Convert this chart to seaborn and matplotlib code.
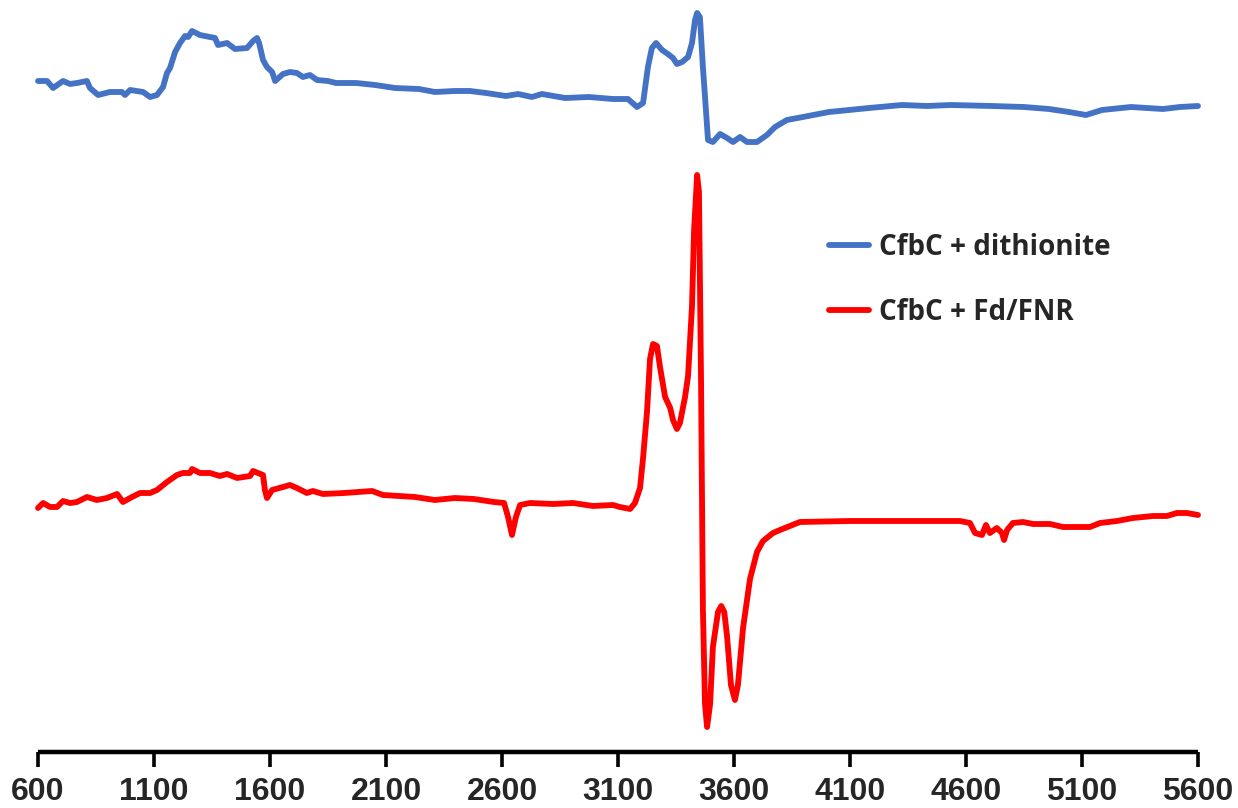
import matplotlib
matplotlib.use("Agg")
import matplotlib.pyplot as plt
import numpy as np
import pandas as pd
import seaborn as sns

# Magnetic field (G) and EPR signal (arbitrary units, offset per trace)
field_dithionite = [
    600, 639, 665, 708, 738, 768, 811, 824, 859, 910, 962, 975, 997, 1053, 1083,
    1113, 1139, 1156, 1169, 1191, 1212, 1234, 1247, 1264, 1298, 1341, 1363, 1376,
    1415, 1449, 1501, 1527, 1544, 1553, 1570, 1587, 1609, 1622, 1656, 1686, 1716,
    1742, 1772, 1803, 1850, 1884, 1971, 2053, 2139, 2242, 2311, 2397, 2462, 2531,
    2617, 2669, 2729, 2772, 2872, 2975, 3078, 3108, 3143, 3182, 3208, 3229, 3246,
    3264, 3290, 3315, 3337, 3354, 3376, 3402, 3419, 3432, 3441, 3453, 3466, 3479,
    3488, 3509, 3540, 3570, 3596, 3626, 3656, 3699, 3742, 3777, 3828, 3897, 4009,
    4182, 4324, 4432, 4535, 4712, 4850, 4958, 5044, 5117, 5186, 5311, 5449, 5522,
    5600,
]
signal_dithionite = [
    671, 671, 664, 671, 668, 669, 671, 664, 657, 660, 660, 657, 662, 660, 655,
    657, 665, 679, 684, 700, 709, 716, 715, 721, 717, 715, 714, 707,
    709, 703, 704, 711, 714, 709, 692, 685, 680, 671, 678, 680, 679,
    675, 677, 672, 671, 669, 669, 667, 664, 663, 660, 661, 661, 659,
    656, 658, 655, 658, 654, 655, 653, 653, 653, 645, 649, 685, 704,
    709, 702, 698, 694, 688, 690, 695, 709, 732, 739, 735, 685, 642,
    612, 610, 618, 614, 610, 615, 610, 610, 617, 625, 632, 635, 640,
    644, 647, 646, 647, 646, 645, 643, 640, 637, 642, 645, 643, 645,
    646,
]

field_fd_fnr = [
    600, 622, 652, 682, 708, 738, 768, 811, 854, 897, 941, 966, 1005, 1040, 1083,
    1113, 1156, 1199, 1225, 1255, 1264, 1298, 1341, 1384, 1415, 1458, 1514, 1527,
    1548, 1570, 1578, 1587, 1609, 1656, 1686, 1716, 1759, 1785, 1828, 1919, 2040,
    2087, 2225, 2311, 2397, 2479, 2565, 2609, 2626, 2643, 2660, 2678, 2721, 2820,
    2906, 2992, 3078, 3108, 3152, 3173, 3195, 3208, 3225, 3238, 3251, 3268, 3281,
    3303, 3325, 3337, 3354, 3367, 3389, 3402, 3419, 3428, 3441, 3449, 3458, 3466,
    3475, 3484, 3497, 3509, 3531, 3545, 3558, 3570, 3587, 3604, 3617, 3639, 3669,
    3699, 3725, 3768, 3798, 3884, 4100, 4315, 4488, 4574, 4617, 4639, 4669, 4686,
    4703, 4733, 4755, 4764, 4777, 4802, 4846, 4889, 4962, 5018, 5078, 5134, 5178,
    5251, 5320, 5406, 5466, 5509, 5552, 5600,
]
signal_fd_fnr = [
    244, 249, 245, 245, 251, 249, 250, 255, 252, 254, 258, 250, 255, 259, 259,
    262, 270, 277, 279, 279, 283, 279, 279, 276, 278, 274, 276, 281,
    279, 277, 262, 254, 262, 265, 267, 264, 259, 261, 258, 259, 261,
    257, 255, 252, 254, 253, 250, 249, 235, 217, 235, 247, 249, 248,
    249, 246, 247, 245, 243, 249, 264, 294, 340, 393, 408, 406, 385,
    355, 344, 332, 323, 329, 355, 376, 446, 522, 577, 560, 370, 143,
    48, 25, 48, 105, 140, 146, 140, 116, 67, 52, 67, 124, 173,
    200, 211, 219, 222, 230, 231, 231, 231, 231, 229, 219, 217, 227,
    219, 224, 219, 212, 222, 229, 230, 228, 228, 225, 225, 225, 229,
    231, 234, 236, 236, 239, 239, 237,
]

series_names = ["CfbC + dithionite", "CfbC + Fd/FNR"]
series_colors = ["#4472C4", "#FF0000"]
x_ticks = [600, 1100, 1600, 2100, 2600, 3100, 3600, 4100, 4600, 5100, 5600]

df = pd.concat([
    pd.DataFrame({"field": field_dithionite, "signal": signal_dithionite,
                  "sample": series_names[0]}),
    pd.DataFrame({"field": field_fd_fnr, "signal": signal_fd_fnr,
                  "sample": series_names[1]}),
], ignore_index=True)

sns.set_theme(style="white")
plt.rcParams["font.family"] = ["Liberation Sans", "DejaVu Sans"]

fig = plt.figure(figsize=(12.38, 8.08), dpi=100)
ax = fig.add_axes([38 / 1238, 56 / 808, 1160 / 1238, 752 / 808])

line_width = 4.2
sns.lineplot(data=df, x="field", y="signal", hue="sample",
             palette=dict(zip(series_names, series_colors)),
             estimator=None, sort=False, linewidth=line_width, ax=ax, legend=False)
for line in ax.get_lines():
    line.set_solid_joinstyle("round")
    line.set_solid_capstyle("round")
    line.set_clip_on(False)

ax.set_xlim(600, 5600)
ax.set_ylim(0, 752)
ax.set_xticks(x_ticks)
ax.set_xticklabels([str(t) for t in x_ticks], fontsize=23, fontweight="bold",
                   family=["Liberation Sans", "DejaVu Sans"])
ax.set_yticks([])
ax.set_xlabel("")
ax.set_ylabel("")
for side in ["top", "right", "left"]:
    ax.spines[side].set_visible(False)
ax.spines["bottom"].set_linewidth(3.2)
ax.spines["bottom"].set_color("black")
ax.spines["bottom"].set_capstyle("butt")
ax.tick_params(axis="x", direction="out", length=11, width=2.6,
               color="black", pad=7, bottom=True)
ax.patch.set_alpha(0)

handles = [plt.Line2D([], [], color=c, linewidth=line_width, solid_capstyle="round")
           for c in series_colors]
leg = ax.legend(handles, series_names, loc="upper left",
                bbox_to_anchor=(829 / 1238, 1 - 233 / 808),
                bbox_transform=fig.transFigure, frameon=False,
                prop={"family": ["Open Sans", "DejaVu Sans"], "weight": "bold", "size": 20},
                handlelength=1.45, handletextpad=0.36, labelspacing=1.3,
                borderpad=0, borderaxespad=0)

fig.savefig("out.png", dpi=100)
